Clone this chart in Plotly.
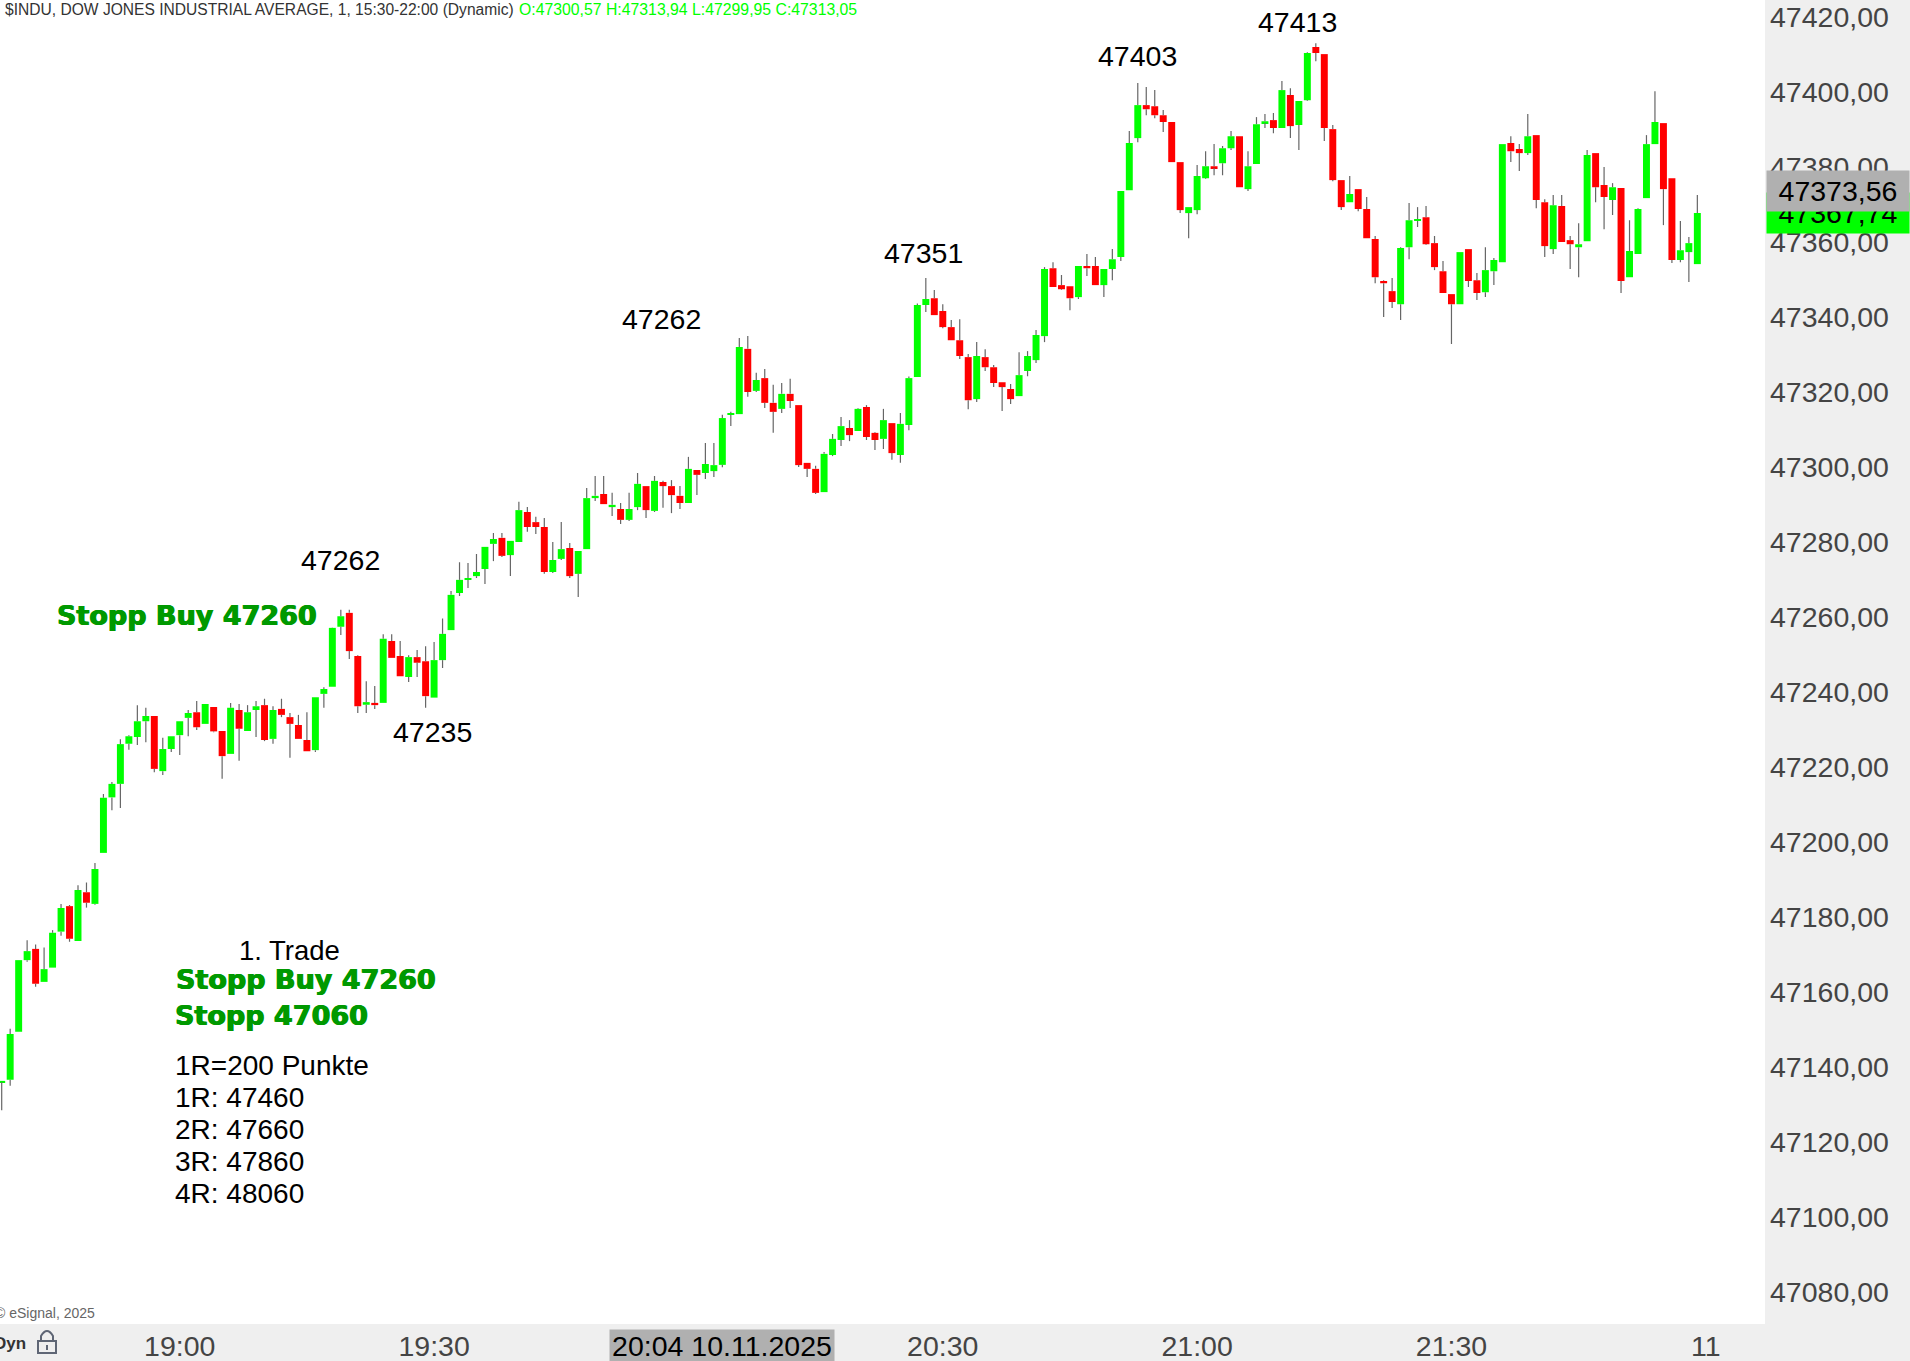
import plotly.graph_objects as go

WIDTH = 1910
HEIGHT = 1361

# 1 minute candles, 18:39 to 21:59
opens = [
    47136.0, 47136.6, 47149.4, 47168.5, 47171.5, 47162.7, 47166.5, 47176.1, 47182.9, 47173.6,
    47186.6, 47183.5, 47197.1, 47211.9, 47215.5, 47226.2, 47228.0, 47232.2, 47233.6, 47218.9,
    47224.8, 47228.5, 47233.1, 47234.6, 47231.5, 47236.0, 47229.6, 47223.5, 47235.2, 47229.6,
    47235.2, 47236.5, 47227.5, 47235.5, 47233.3, 47231.2, 47227.2, 47224.5, 47239.5, 47241.4,
    47257.4, 47261.1, 47249.6, 47236.6, 47237.1, 47237.1, 47253.6, 47249.6, 47244.0, 47249.3,
    47248.2, 47238.5, 47248.5, 47256.5, 47266.4, 47269.9, 47270.9, 47272.8, 47279.5, 47281.1,
    47276.5, 47280.0, 47288.0, 47285.3, 47284.0, 47272.0, 47275.5, 47278.4, 47271.5, 47278.1,
    47291.7, 47292.8, 47289.3, 47288.8, 47285.9, 47289.3, 47294.9, 47288.3, 47296.0, 47294.9,
    47292.3, 47290.4, 47299.2, 47298.4, 47298.9, 47300.57, 47313.9, 47314.1, 47331.5, 47320.3,
    47323.7, 47317.1, 47315.5, 47319.5, 47316.5, 47301.1, 47299.5, 47293.3, 47303.2, 47307.2,
    47310.4, 47309.6, 47316.0, 47309.1, 47307.5, 47311.7, 47303.2, 47311.2, 47324.0, 47343.2,
    47345.0, 47341.6, 47337.3, 47333.8, 47329.3, 47318.1, 47329.3, 47326.6, 47322.6, 47320.8,
    47318.9, 47325.6, 47328.5, 47334.9, 47353.0, 47348.5, 47348.2, 47345.3, 47353.6, 47353.6,
    47348.5, 47352.8, 47356.0, 47373.8, 47387.7, 47396.5, 47396.2, 47393.8, 47392.0, 47381.3,
    47367.7, 47368.5, 47377.0, 47380.2, 47381.0, 47385.0, 47388.2, 47374.1, 47380.8, 47391.7,
    47392.5, 47390.4, 47399.2, 47391.2, 47397.8, 47412.0, 47410.1, 47390.1, 47376.5, 47370.6,
    47374.1, 47368.8, 47360.8, 47349.6, 47346.9, 47343.4, 47358.6, 47365.6, 47366.6, 47359.7,
    47352.2, 47346.1, 47343.4, 47358.1, 47349.8, 47346.6, 47352.2, 47354.6, 47386.4, 47384.8,
    47383.7, 47388.5, 47370.6, 47358.1, 47369.6, 47360.5, 47358.6, 47360.2, 47383.7, 47375.2,
    47371.2, 47374.4, 47350.6, 47356.8, 47371.7, 47386.1, 47391.7, 47377.0, 47355.2, 47357.3,
    47354.1,
]
highs = [
    47136.3, 47150.2, 47168.5, 47173.8, 47172.7, 47171.9, 47176.5, 47183.5, 47183.2, 47188.5,
    47189.2, 47194.4, 47212.8, 47216.0, 47227.4, 47228.5, 47236.5, 47235.8, 47233.6, 47227.8,
    47228.2, 47232.2, 47235.2, 47237.6, 47236.8, 47236.0, 47229.6, 47237.1, 47236.8, 47236.5,
    47237.6, 47238.2, 47236.2, 47238.2, 47234.4, 47233.9, 47234.6, 47238.6, 47241.3, 47257.2,
    47261.9, 47261.9, 47249.8, 47242.9, 47241.6, 47255.4, 47255.4, 47253.6, 47249.8, 47251.2,
    47252.2, 47253.3, 47259.6, 47266.9, 47274.6, 47274.4, 47276.8, 47278.7, 47282.4, 47282.4,
    47280.3, 47290.7, 47289.3, 47286.7, 47286.4, 47280.0, 47285.3, 47279.7, 47277.6, 47294.4,
    47297.6, 47297.6, 47293.1, 47290.4, 47293.1, 47298.4, 47294.9, 47297.6, 47296.3, 47296.5,
    47294.9, 47302.7, 47299.2, 47306.4, 47306.4, 47313.94, 47314.7, 47334.4, 47334.9, 47325.1,
    47326.1, 47321.9, 47322.4, 47323.5, 47316.5, 47301.1, 47300.3, 47304.0, 47308.8, 47313.3,
    47312.5, 47315.7, 47316.5, 47309.3, 47315.5, 47311.7, 47314.4, 47324.1, 47343.6, 47350.4,
    47347.2, 47343.4, 47339.2, 47339.4, 47330.1, 47333.3, 47331.4, 47327.2, 47322.6, 47322.1,
    47330.6, 47330.9, 47336.5, 47353.3, 47354.6, 47351.2, 47348.2, 47353.6, 47356.8, 47356.0,
    47352.8, 47358.1, 47373.6, 47389.6, 47402.4, 47401.3, 47400.5, 47395.2, 47392.0, 47381.3,
    47369.3, 47380.5, 47384.2, 47386.1, 47385.6, 47389.6, 47388.2, 47384.2, 47393.3, 47394.1,
    47394.4, 47402.9, 47401.0, 47397.6, 47410.6, 47413.0, 47410.1, 47391.2, 47376.5, 47377.6,
    47374.1, 47372.0, 47361.6, 47349.8, 47350.4, 47358.6, 47370.4, 47369.3, 47369.6, 47361.6,
    47354.9, 47346.1, 47357.3, 47358.1, 47351.7, 47358.6, 47355.7, 47386.1, 47388.2, 47386.1,
    47394.1, 47388.5, 47371.4, 47372.5, 47372.5, 47361.6, 47365.0, 47384.5, 47383.7, 47380.0,
    47375.7, 47374.4, 47365.8, 47369.0, 47388.5, 47400.2, 47391.7, 47377.0, 47365.6, 47361.3,
    47372.5,
]
lows = [
    47128.5, 47135.0, 47149.4, 47168.1, 47161.4, 47162.7, 47166.5, 47175.0, 47173.4, 47173.6,
    47182.5, 47183.3, 47197.1, 47208.5, 47209.1, 47224.6, 47225.9, 47226.6, 47218.6, 47217.9,
    47224.0, 47223.2, 47228.2, 47229.9, 47231.5, 47229.3, 47216.9, 47223.5, 47221.7, 47229.6,
    47228.0, 47226.9, 47226.2, 47233.3, 47222.5, 47227.5, 47224.2, 47224.0, 47235.8, 47241.4,
    47255.2, 47248.8, 47234.4, 47234.4, 47235.5, 47237.1, 47249.1, 47244.2, 47242.7, 47244.0,
    47235.8, 47238.5, 47246.4, 47256.5, 47265.6, 47267.7, 47270.4, 47268.8, 47274.9, 47276.0,
    47270.9, 47280.0, 47282.7, 47282.1, 47271.5, 47271.7, 47275.2, 47270.4, 47265.3, 47278.1,
    47290.9, 47290.1, 47286.9, 47284.8, 47285.6, 47288.5, 47286.4, 47288.0, 47289.1, 47287.7,
    47288.8, 47290.4, 47292.5, 47296.8, 47297.3, 47299.95, 47310.9, 47314.1, 47318.7, 47320.0,
    47315.7, 47309.1, 47314.4, 47315.7, 47300.0, 47297.3, 47292.8, 47293.3, 47302.9, 47305.6,
    47306.9, 47309.6, 47307.2, 47304.5, 47304.8, 47301.9, 47301.1, 47309.8, 47324.0, 47341.3,
    47340.5, 47337.0, 47333.8, 47328.8, 47315.4, 47317.3, 47325.6, 47321.3, 47314.9, 47316.8,
    47318.9, 47324.2, 47327.7, 47333.3, 47348.0, 47347.2, 47341.8, 47344.8, 47350.9, 47348.5,
    47345.3, 47349.8, 47354.9, 47373.8, 47386.6, 47393.8, 47393.0, 47389.3, 47381.3, 47367.7,
    47361.0, 47367.4, 47376.8, 47377.8, 47377.8, 47384.5, 47374.6, 47373.6, 47380.8, 47390.4,
    47389.0, 47390.4, 47387.7, 47384.5, 47397.6, 47408.2, 47386.9, 47376.2, 47368.5, 47370.6,
    47368.2, 47361.0, 47349.0, 47340.0, 47342.4, 47339.2, 47355.4, 47364.0, 47359.2, 47352.5,
    47346.4, 47332.8, 47343.4, 47348.0, 47344.5, 47345.3, 47348.5, 47354.6, 47381.3, 47378.9,
    47383.2, 47369.0, 47356.0, 47356.8, 47360.0, 47352.8, 47350.6, 47360.2, 47370.6, 47363.4,
    47367.2, 47346.4, 47350.6, 47356.8, 47371.7, 47386.1, 47364.5, 47354.4, 47354.6, 47349.3,
    47354.1,
]
closes = [
    47136.3, 47148.8, 47168.5, 47170.9, 47162.2, 47166.1, 47175.8, 47182.4, 47174.2, 47187.2,
    47183.8, 47192.8, 47211.8, 47215.5, 47226.1, 47228.2, 47232.2, 47233.6, 47219.5, 47224.8,
    47228.2, 47232.2, 47234.4, 47230.6, 47236.8, 47229.5, 47222.9, 47235.8, 47230.2, 47234.6,
    47236.2, 47227.2, 47235.2, 47233.9, 47231.5, 47227.5, 47224.2, 47238.6, 47240.8, 47257.1,
    47260.2, 47250.9, 47236.2, 47237.3, 47236.5, 47254.2, 47249.1, 47244.2, 47249.3, 47247.8,
    47238.9, 47248.5, 47255.5, 47265.9, 47269.9, 47270.4, 47272.0, 47278.7, 47280.8, 47276.3,
    47280.3, 47288.5, 47284.0, 47284.0, 47272.0, 47275.2, 47278.1, 47270.9, 47277.6, 47291.7,
    47292.3, 47290.1, 47289.9, 47285.9, 47288.8, 47295.5, 47288.5, 47296.3, 47294.9, 47292.5,
    47290.4, 47299.5, 47297.9, 47300.8, 47300.5, 47313.05, 47314.4, 47332.0, 47320.0, 47323.2,
    47317.1, 47314.7, 47319.5, 47317.6, 47300.5, 47299.5, 47293.1, 47303.5, 47307.5, 47310.9,
    47308.5, 47315.5, 47308.0, 47307.2, 47312.5, 47303.7, 47311.5, 47323.7, 47343.2, 47344.8,
    47340.5, 47337.3, 47333.8, 47329.6, 47317.8, 47329.6, 47326.6, 47322.4, 47321.3, 47318.1,
    47324.5, 47329.6, 47335.2, 47352.8, 47348.0, 47347.4, 47345.0, 47353.6, 47353.0, 47348.5,
    47352.8, 47355.4, 47373.6, 47386.4, 47396.5, 47395.4, 47393.8, 47392.0, 47381.3, 47368.5,
    47369.3, 47377.6, 47380.2, 47379.7, 47385.0, 47388.2, 47374.6, 47380.2, 47391.4, 47392.2,
    47390.4, 47400.5, 47390.9, 47397.6, 47410.4, 47410.4, 47390.4, 47376.5, 47369.3, 47372.8,
    47368.8, 47361.0, 47350.6, 47349.0, 47344.0, 47358.4, 47365.8, 47366.1, 47359.4, 47353.3,
    47346.4, 47343.4, 47357.3, 47349.6, 47346.4, 47352.5, 47355.2, 47386.1, 47384.2, 47383.7,
    47388.2, 47371.2, 47358.9, 47369.8, 47360.0, 47359.4, 47359.4, 47383.2, 47374.6, 47372.0,
    47374.6, 47349.6, 47357.6, 47368.8, 47386.1, 47392.0, 47374.1, 47355.2, 47357.8, 47359.7,
    47367.74,
]

# tick labels, position counted in minutes from the first candle
time_ticks = [21, 51, 111, 141, 171, 201]
time_labels = ["19:00", "19:30", "20:30", "21:00", "21:30", "11"]
price_ticks = [47080 + 20 * k for k in range(18)]

peak_labels = ["47262", "47235", "47262", "47351", "47403", "47413"]
peak_x = [340, 432, 661, 923, 1137, 1297]
peak_y = [560, 732, 319, 253, 56, 22]

trade_lines = ["1R=200 Punkte", "1R: 47460", "2R: 47660", "3R: 47860", "4R: 48060"]
trade_y = [1065, 1097, 1129, 1161, 1193]

stop_lines = ["Stopp Buy 47260", "Stopp Buy 47260", "Stopp 47060"]
stop_x = [57, 176, 175]
stop_y = [615, 979, 1015]

last_price = 47367.74
cross_price = 47373.56
cross_minute = 85

FONT = "Liberation Sans"
TEXT_SIZE = 28.5


def px(x):
    return x / WIDTH


def py(y):
    return 1 - y / HEIGHT


idx = list(range(len(opens)))
top = [max(o, c) for o, c in zip(opens, closes)]
bot = [min(o, c) for o, c in zip(opens, closes)]
colors = ["#00ff00" if c >= o else "#ff0000" for o, c in zip(opens, closes)]

# wicks in two pieces, scatter lies above bars
wick_x, wick_y = [], []
for i in idx:
    wick_x += [i, i, None, i, i, None]
    wick_y += [highs[i], top[i], None, bot[i], lows[i], None]

fig = go.Figure()
fig.add_trace(go.Bar(x=idx, y=[t - b for t, b in zip(top, bot)], base=bot, width=0.82,
                     marker=dict(color=colors, line=dict(width=0))))
fig.add_trace(go.Scatter(x=wick_x, y=wick_y, mode="lines", line=dict(color="#666666", width=1.2)))


def note(text, x, y, size=TEXT_SIZE, color="#000000", anchor="center", family=FONT, shadow=None):
    fig.add_annotation(text=text, xref="paper", yref="paper", x=px(x), y=py(y), showarrow=False,
                       xanchor=anchor, yanchor="middle", borderpad=0, borderwidth=0,
                       font=dict(family=family, size=size, color=color, shadow=shadow))


for t, x, y in zip(peak_labels, peak_x, peak_y):
    note(t, x, y)
note("1. Trade", 289, 950, size=27.5)
for t, y in zip(trade_lines, trade_y):
    note(t, 174.5, y, size=28, anchor="left")
for t, x, y in zip(stop_lines, stop_x, stop_y):
    note("<b>" + t + "</b>", x, y, size=27, color="#009900", anchor="left", family="DejaVu Sans",
         shadow="0.6px 0 0 #009900, -0.6px 0 0 #009900")

note("$INDU, DOW JONES INDUSTRIAL AVERAGE, 1, 15:30-22:00 (Dynamic)", 5, 10, size=15.6,
     color="#333333", anchor="left")
note("O:47300,57 H:47313,94 L:47299,95 C:47313,05", 519, 10, size=15.8, color="#00ff00", anchor="left")
note("© eSignal, 2025", 95, 1313, size=14, color="#666666", anchor="right")
note("<b>Dyn</b>", 26, 1343, size=17, color="#333333", anchor="right")


def price_box(price, color):
    fig.add_annotation(text=f"{price:.2f}".replace(".", ","), xref="paper", yref="y", x=1, y=price,
                       xanchor="right", yanchor="middle", showarrow=False, width=142, height=40,
                       bgcolor=color, borderpad=0, align="center",
                       font=dict(family=FONT, size=TEXT_SIZE, color="#000000"))


price_box(last_price, "#00ff00")
price_box(cross_price, "#b0b0b0")

fig.add_annotation(text="20:04 10.11.2025", xref="x", yref="paper", x=cross_minute, y=py(1345.5),
                   xanchor="center", yanchor="middle", showarrow=False, width=224, height=31,
                   bgcolor="#b0b0b0", borderpad=0, font=dict(family=FONT, size=TEXT_SIZE, color="#000000"))

# axis panels behind the plot, and the little lock
panel = dict(type="rect", xref="paper", yref="paper", fillcolor="#efefef", line_width=0, layer="below")
fig.add_shape(x0=px(1765), x1=1, y0=0, y1=1, **panel)
fig.add_shape(x0=0, x1=1, y0=0, y1=py(1324), **panel)
lock = dict(xref="paper", yref="paper", line=dict(color="#5f6675", width=2), layer="above")
fig.add_shape(type="rect", x0=px(38), x1=px(56), y0=py(1353), y1=py(1341), **lock)
fig.add_shape(type="path", path=f"M {px(41)} {py(1341)} L {px(41)} {py(1336)} Q {px(47)} {py(1326)} {px(53)} {py(1336)} L {px(53)} {py(1341)}", **lock)
fig.add_shape(type="path", path=f"M {px(47)} {py(1345)} L {px(47)} {py(1350)}", **lock)

fig.update_layout(
    width=WIDTH, height=HEIGHT, margin=dict(l=0, r=0, t=0, b=0),
    paper_bgcolor="#ffffff", plot_bgcolor="#ffffff",
    showlegend=False, hovermode=False, separators=",.", barmode="overlay",
    font=dict(family=FONT),
)
fig.update_xaxes(domain=[0, px(1765)], range=[-0.2, 207.98], tickmode="array", tickvals=time_ticks,
                 ticktext=time_labels, showgrid=False, zeroline=False, showline=False, ticks="",
                 tickangle=0, ticklabelstandoff=2, tickfont=dict(family=FONT, size=TEXT_SIZE, color="#444444"))
fig.update_yaxes(domain=[py(1324), 1], range=[47071.47, 47424.53], side="right", tickmode="array",
                 tickvals=price_ticks, tickformat=".2f", showgrid=False, zeroline=False, showline=False,
                 ticks="", ticklabelstandoff=4, tickfont=dict(family=FONT, size=TEXT_SIZE, color="#444444"))

fig.write_html("out.html", config={"displayModeBar": False}, post_script="document.body.style.margin='0';")
